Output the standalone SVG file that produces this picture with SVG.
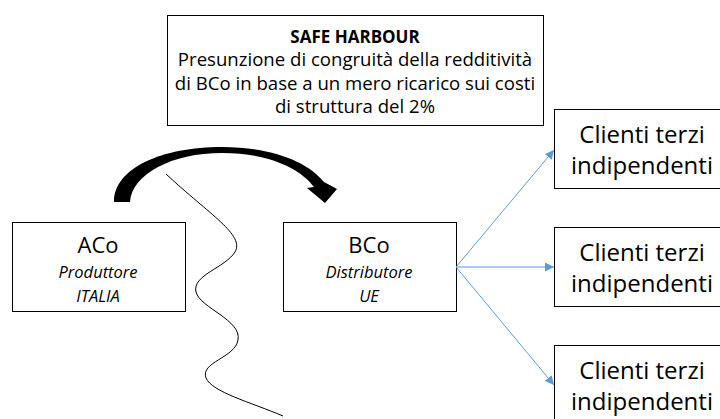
<svg xmlns="http://www.w3.org/2000/svg" width="720" height="419" viewBox="0 0 720 419">
<style>
.box{fill:#fff;stroke:#000;stroke-width:1}
text{font-family:"Open Sans","Noto Sans",sans-serif;fill:#000;text-anchor:middle}
.sh{font-size:18.6px}
.b{font-weight:bold;font-size:17px}
.big{font-size:22px}
.it{font-size:16.5px;font-style:italic}
.cl{font-size:24px}
.conn{stroke:#5B9BD5;stroke-width:1;fill:none;marker-end:url(#ah)}
</style>
<defs>
<marker id="ah" viewBox="0 0 10 10" refX="10" refY="5" markerWidth="9" markerHeight="9" markerUnits="userSpaceOnUse" orient="auto">
<path d="M0,0 L10,5 L0,10 z" fill="#5B9BD5"/>
</marker>
</defs>
<rect width="720" height="419" fill="#fff"/>
<g id="safe-harbour">
<rect class="box" x="167.5" y="15.5" width="376" height="110"/>
<text class="sh b" x="355" y="43">SAFE HARBOUR</text>
<text class="sh" x="355" y="66">Presunzione di congruità della redditività</text>
<text class="sh" x="355" y="90">di BCo in base a un mero ricarico sui costi</text>
<text class="sh" x="355" y="113">di struttura del 2%</text>
</g>
<g id="aco">
<rect class="box" x="12.5" y="222.5" width="173" height="89"/>
<text class="big" x="98" y="253">ACo</text>
<text class="it" x="98" y="278">Produttore</text>
<text class="it" x="98" y="302">ITALIA</text>
</g>
<g id="bco">
<rect class="box" x="283.5" y="222.5" width="173" height="89"/>
<text class="big" x="369" y="253">BCo</text>
<text class="it" x="369" y="278">Distributore</text>
<text class="it" x="369" y="302">UE</text>
</g>
<g id="clienti1">
<rect class="box" x="554.5" y="109.5" width="180" height="79"/>
<text class="cl" x="642" y="143">Clienti terzi</text>
<text class="cl" x="642" y="174">indipendenti</text>
</g>
<g id="clienti2">
<rect class="box" x="554.5" y="227.5" width="180" height="79"/>
<text class="cl" x="642" y="261">Clienti terzi</text>
<text class="cl" x="642" y="292">indipendenti</text>
</g>
<g id="clienti3">
<rect class="box" x="554.5" y="345.5" width="180" height="90"/>
<text class="cl" x="642" y="379">Clienti terzi</text>
<text class="cl" x="642" y="410">indipendenti</text>
</g>
<g id="connectors">
<path d="M114,202 C114,168 162,147 222,147 C272,147 308,162 324,182 L337,189 L325,203 L307,188 L314,187 C300,168 268,153 222,153 C172,153 132,174 130,202 Z" fill="#000"/>
<path d="M166,174 C210,215 245,235 235,252 C225,268 192,275 196,292 C200,308 242,320 238,340 C235,358 200,362 206,378 C212,392 250,402 283,416" fill="none" stroke="#000" stroke-width="1"/>
<line class="conn" x1="456" y1="267" x2="554" y2="150"/>
<line class="conn" x1="456" y1="267" x2="554" y2="267"/>
<line class="conn" x1="456" y1="267" x2="554" y2="385"/>
</g>
</svg>
